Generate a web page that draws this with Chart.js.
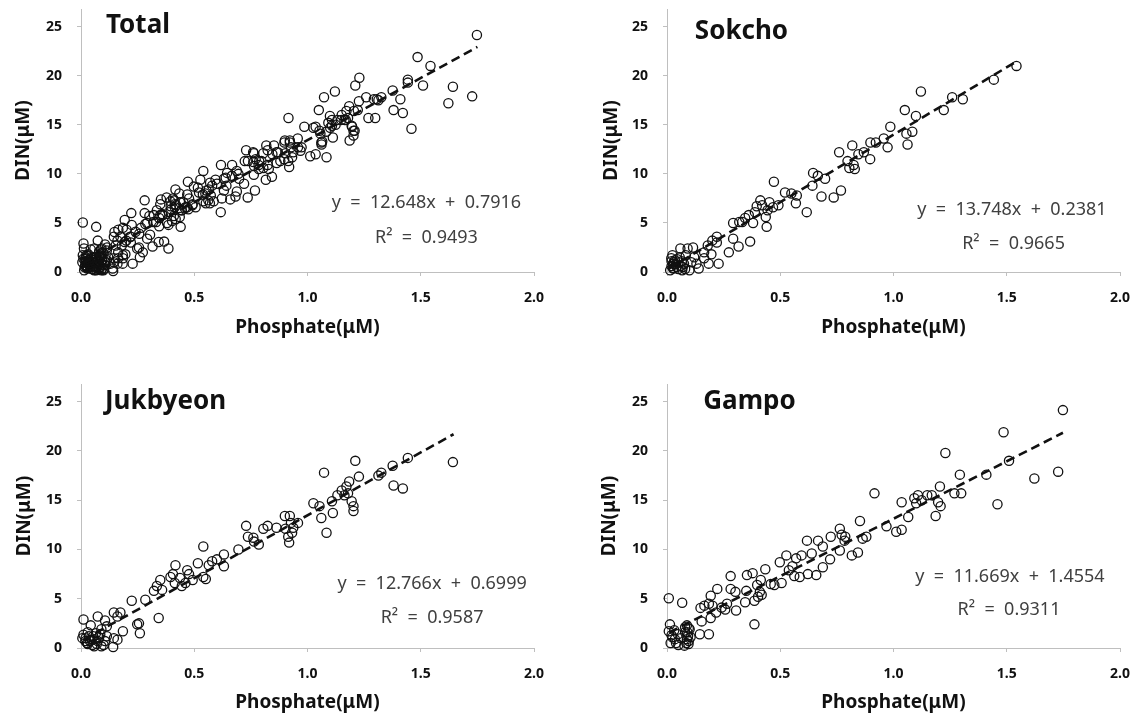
<!DOCTYPE html>
<html lang="en">
<head>
<meta charset="UTF-8">
<title>DIN vs Phosphate</title>
<script src="https://cdn.jsdelivr.net/npm/chart.js"></script>
<style>
  html, body { margin: 0; padding: 0; background: #fff; }
  body { width: 1132px; height: 718px; position: relative; overflow: hidden; }
  .panel { position: absolute; width: 566px; height: 359px; }
  .panel canvas { display: block; }
</style>
</head>
<body>
<div class="panel" style="left:0;top:0"><canvas id="c0" width="566" height="359"></canvas></div>
<div class="panel" style="left:566px;top:0"><canvas id="c1" width="566" height="359"></canvas></div>
<div class="panel" style="left:0;top:359px"><canvas id="c2" width="566" height="359"></canvas></div>
<div class="panel" style="left:566px;top:359px"><canvas id="c3" width="566" height="359"></canvas></div>

<script>
  // [phosphate, DIN]
  const sokcho = [
    [1.543,21.0],[1.443,19.6],[1.259,17.8],[1.306,17.6],[1.222,16.5],[1.121,18.4],[1.05,16.5],[1.099,15.9],
    [1.083,14.3],[1.057,14.1],[1.062,13.0],[0.986,14.8],[0.957,13.6],[0.974,12.7],[0.898,13.2],[0.922,13.2],
    [0.897,11.5],[0.818,12.9],[0.845,12.0],[0.869,12.2],[0.760,12.2],[0.797,11.3],[0.824,10.9],[0.805,10.6],
    [0.829,10.5],[0.768,8.3],[0.736,7.6],[0.645,10.1],[0.666,9.8],[0.698,9.5],[0.642,8.8],[0.682,7.7],
    [0.617,6.1],[0.573,7.8],[0.549,8.0],[0.521,8.1],[0.569,7.0],[0.472,9.2],[0.492,6.8],[0.468,6.6],
    [0.444,6.3],[0.452,7.1],[0.420,6.8],[0.412,7.3],[0.388,6.1],[0.396,6.7],[0.436,5.6],[0.44,4.6],
    [0.361,5.8],[0.345,5.5],[0.332,5.1],[0.380,5.0],[0.292,5.0],[0.319,5.1],[0.292,3.4],[0.316,2.6],
    [0.367,3.1],[0.273,2.0],[0.22,3.6],[0.2,3.2],[0.22,3.0],[0.18,2.7],[0.164,2.0],[0.196,1.8],
    [0.228,0.85],[0.184,0.85],[0.14,0.35],[0.164,1.4],[0.115,2.5],[0.091,2.4],[0.059,2.4],[0.083,1.7],
    [0.107,1.0],[0.099,0.17],[0.067,0.17],[0.043,0.5],[0.027,0.85],[0.019,1.4],[0.024,1.7],[0.035,1.2],
    [0.051,1.0],[0.027,0.35],[0.014,0.17],[0.075,0.85],[0.056,1.5],[0.12,1.5],[0.13,0.85],
    [0.02,0.6],[0.03,1.0],[0.04,0.8],[0.05,0.3],[0.06,0.6],[0.02,1.1],[0.03,0.4],[0.045,1.3],
    [0.07,0.5],[0.08,0.3],[0.065,1.1]
  ];
  const jukbyeon = [
    [1.642,18.87],[1.443,19.3],[1.376,18.5],[1.313,17.5],[1.326,17.8],[1.38,16.5],[1.421,16.2],[1.211,19.0],
    [1.227,17.4],[1.184,16.9],[1.172,16.4],[1.151,16.0],[1.179,15.7],[1.163,15.5],[1.195,14.9],[1.203,14.4],
    [1.203,13.9],[1.132,15.5],[1.108,14.9],[1.112,13.7],[1.084,11.7],[1.073,17.8],[1.026,14.7],[1.053,14.4],
    [1.061,13.2],[0.958,12.7],[0.937,12.2],[0.922,13.4],[0.9,13.4],[0.927,12.7],[0.932,11.7],[0.915,11.3],
    [0.919,10.7],[0.903,12.1],[0.863,12.2],[0.824,12.4],[0.805,12.1],[0.729,12.4],[0.737,11.3],[0.761,11.2],
    [0.764,10.8],[0.785,10.5],[0.695,10.0],[0.631,9.5],[0.631,8.3],[0.6,9.0],[0.579,8.8],[0.564,8.4],
    [0.54,10.3],[0.516,8.6],[0.54,7.2],[0.551,7.0],[0.477,7.5],[0.493,6.9],[0.461,6.6],[0.469,7.9],
    [0.437,7.1],[0.417,8.4],[0.406,7.5],[0.414,6.6],[0.445,6.3],[0.395,7.2],[0.35,6.9],[0.322,5.8],
    [0.358,5.9],[0.335,6.3],[0.284,4.9],[0.224,4.8],[0.343,3.05],[0.256,2.5],[0.248,2.4],[0.26,1.5],
    [0.185,1.7],[0.174,3.6],[0.145,3.6],[0.161,3.2],[0.106,2.8],[0.074,3.2],[0.011,2.9],[0.043,2.3],
    [0.09,1.9],[0.114,2.2],[0.066,1.5],[0.114,1.2],[0.145,1.0],[0.142,0.1],[0.09,0.17],[0.058,0.17],
    [0.027,0.5],[0.006,1.0],[0.011,1.35],[0.019,0.7],[0.047,0.85],[0.035,1.2],[0.074,0.7],[0.054,1.2],
    [0.106,0.7],[0.161,0.85],
    [0.02,1.0],[0.03,0.4],[0.04,0.7],[0.05,0.3],[0.06,0.9],[0.07,0.4],[0.08,1.1],[0.03,1.6],
    [0.1,0.3],[0.085,1.4]
  ];
  const gampo = [
    [1.748,24.15],[1.486,21.9],[1.51,19.0],[1.229,19.8],[1.727,17.9],[1.622,17.2],[1.459,14.6],[1.41,17.6],
    [1.293,17.6],[1.299,15.7],[1.269,15.7],[1.205,16.4],[1.208,14.4],[1.186,13.4],[1.197,14.8],[1.169,15.5],
    [1.149,15.5],[1.108,15.5],[1.124,15.0],[1.1,14.7],[1.092,15.2],[1.065,13.3],[1.036,14.8],[1.036,12.0],
    [1.012,11.8],[0.969,12.35],[0.916,15.7],[0.852,12.9],[0.88,11.3],[0.864,11.1],[0.843,9.7],[0.816,9.4],
    [0.787,11.3],[0.784,10.9],[0.763,12.1],[0.771,11.5],[0.763,9.9],[0.723,11.3],[0.72,9.0],[0.688,8.2],
    [0.688,10.3],[0.667,10.9],[0.659,7.4],[0.639,9.6],[0.618,10.9],[0.594,9.4],[0.57,9.1],[0.554,8.3],
    [0.527,9.4],[0.498,8.7],[0.506,6.6],[0.538,7.9],[0.562,7.3],[0.586,7.2],[0.622,7.5],[0.434,8.0],
    [0.414,6.9],[0.458,6.5],[0.474,6.4],[0.398,6.4],[0.41,5.7],[0.386,4.8],[0.402,5.2],[0.418,5.4],
    [0.386,2.4],[0.378,7.6],[0.353,7.4],[0.35,5.8],[0.345,4.65],[0.281,7.3],[0.281,6.0],[0.302,5.7],
    [0.305,3.8],[0.265,4.5],[0.241,4.1],[0.257,3.9],[0.222,6.0],[0.193,5.3],[0.185,4.5],[0.201,4.3],
    [0.193,3.05],[0.148,4.07],[0.165,4.3],[0.153,2.7],[0.145,1.4],[0.185,1.4],[0.217,3.6],[0.008,5.05],
    [0.067,4.6],[0.013,2.4],[0.008,1.7],[0.032,1.8],[0.048,1.4],[0.016,0.5],[0.04,0.5],[0.024,1.1],
    [0.08,2.1],[0.088,2.3],[0.096,2.0],[0.08,1.6],[0.093,1.25],[0.077,0.24],[0.096,0.7],[0.088,0.9],
    [0.104,1.1],
    [0.085,0.5],[0.09,1.6],[0.1,1.9],[0.095,0.4],[0.02,1.3],[0.035,0.9],[0.05,0.3],[0.06,1.0]
  ];
  const total = sokcho.concat(jukbyeon, gampo);

  const panelNames = ["Total", "Sokcho", "Jukbyeon", "Gampo"];
  const panelData = [total, sokcho, jukbyeon, gampo];
  const equations = ["y  =  12.648x  +  0.7916", "y  =  13.748x  +  0.2381", "y  =  12.766x  +  0.6999", "y  =  11.669x  +  1.4554"];
  const rSquared = ["R²  =  0.9493", "R²  =  0.9665", "R²  =  0.9587", "R²  =  0.9311"];
  // trendline end points [x0, y0, x1, y1]
  const trendLines = [
    [0.01, 0.92, 1.75, 22.93],
    [0.01, 0.38, 1.54, 21.41],
    [0.01, 0.83, 1.645, 21.7],
    [0.01, 1.57, 1.748, 21.85]
  ];
  const xTicks = [0, 0.5, 1.0, 1.5, 2.0];
  const yTicks = [0, 5, 10, 15, 20, 25];

  const FONT = "'Noto Sans', 'Open Sans', sans-serif";

  // per-panel layout (pixels / data-space anchors for texts)
  const layouts = [
    { padTop: 9,  padRight: 32, yW: 81,  xH: 87, yTitle: 12, xTitle: 20, titleAt: [0.11, 25.1],  eqAt: [1.525, 7.06], r2At: [1.525, 3.49] },
    { padTop: 9,  padRight: 12, yW: 101, xH: 87, yTitle: 34, xTitle: 20, titleAt: [0.123, 24.5], eqAt: [1.523, 6.38], r2At: [1.53, 2.88] },
    { padTop: 25, padRight: 32, yW: 81,  xH: 70, yTitle: 13, xTitle: 4,  titleAt: [0.106, 25.0], eqAt: [1.55, 6.5],   r2At: [1.55, 3.05] },
    { padTop: 25, padRight: 12, yW: 101, xH: 70, yTitle: 32, xTitle: 4,  titleAt: [0.16, 25.0],  eqAt: [1.514, 7.26], r2At: [1.51, 3.9] }
  ];

  const panelText = {
    id: "panelText",
    afterDatasetsDraw(chart, args, opts) {
      const ctx = chart.ctx;
      const xs = chart.scales.x, ys = chart.scales.y;
      ctx.save();
      ctx.textBaseline = "middle";
      ctx.fillStyle = "#111";
      ctx.font = "bold 26px " + FONT;
      ctx.textAlign = "left";
      ctx.fillText(opts.title, xs.getPixelForValue(opts.titleAt[0]), ys.getPixelForValue(opts.titleAt[1]));
      ctx.fillStyle = "#404040";
      ctx.font = "18px " + FONT;
      ctx.textAlign = "center";
      ctx.fillText(opts.eq, xs.getPixelForValue(opts.eqAt[0]), ys.getPixelForValue(opts.eqAt[1]));
      ctx.fillText(opts.r2, xs.getPixelForValue(opts.r2At[0]), ys.getPixelForValue(opts.r2At[1]));
      ctx.restore();
    }
  };

  panelNames.forEach((name, i) => {
    const L = layouts[i];
    const t = trendLines[i];
    new Chart(document.getElementById("c" + i), {
      type: "scatter",
      data: {
        datasets: [
          {
            type: "line",
            data: [{ x: t[0], y: t[1] }, { x: t[2], y: t[3] }],
            borderColor: "#111",
            borderWidth: 2.6,
            borderDash: [9, 5],
            pointRadius: 0,
            fill: false,
            order: 0
          },
          {
            data: panelData[i].map(p => ({ x: p[0], y: p[1] })),
            backgroundColor: "rgba(0,0,0,0)",
            borderColor: "#111",
            borderWidth: 1.3,
            pointRadius: 4.6,
            clip: false,
            order: 1
          }
        ]
      },
      options: {
        responsive: false,
        animation: false,
        devicePixelRatio: 1,
        layout: { padding: { left: 0, top: L.padTop, right: L.padRight, bottom: 0 } },
        plugins: {
          legend: { display: false },
          tooltip: { enabled: false },
          panelText: { title: name, titleAt: L.titleAt, eq: equations[i], eqAt: L.eqAt, r2: rSquared[i], r2At: L.r2At }
        },
        scales: {
          x: {
            type: "linear",
            min: 0,
            max: 2,
            afterBuildTicks: s => { s.ticks = xTicks.map(v => ({ value: v })); },
            afterFit: s => { s.height = L.xH; s.paddingLeft = 0; s.paddingRight = 0; },
            ticks: {
              padding: 14,
              color: "#111",
              font: { family: FONT, size: 14, weight: "bold" },
              callback: v => Number(v).toFixed(1)
            },
            grid: { display: true, drawOnChartArea: false, drawTicks: true, tickLength: 4, color: "#bfbfbf" },
            border: { display: true, color: "#bfbfbf", width: 1 },
            title: {
              display: true,
              text: "Phosphate(μM)",
              color: "#111",
              font: { family: FONT, size: 19, weight: "bold" },
              padding: { top: 0, bottom: L.xTitle }
            }
          },
          y: {
            type: "linear",
            min: 0,
            max: 26.8,
            afterBuildTicks: s => { s.ticks = yTicks.map(v => ({ value: v })); },
            afterFit: s => { s.width = L.yW; s.paddingTop = 0; s.paddingBottom = 0; },
            ticks: {
              padding: 15,
              color: "#111",
              font: { family: FONT, size: 14, weight: "bold" }
            },
            grid: { display: true, drawOnChartArea: false, drawTicks: true, tickLength: 4, color: "#bfbfbf" },
            border: { display: true, color: "#bfbfbf", width: 1 },
            title: {
              display: true,
              text: "DIN(μM)",
              color: "#111",
              font: { family: FONT, size: 19, weight: "bold" },
              padding: { top: L.yTitle, bottom: 0 }
            }
          }
        }
      },
      plugins: [panelText]
    });
  });
</script>
</body>
</html>
